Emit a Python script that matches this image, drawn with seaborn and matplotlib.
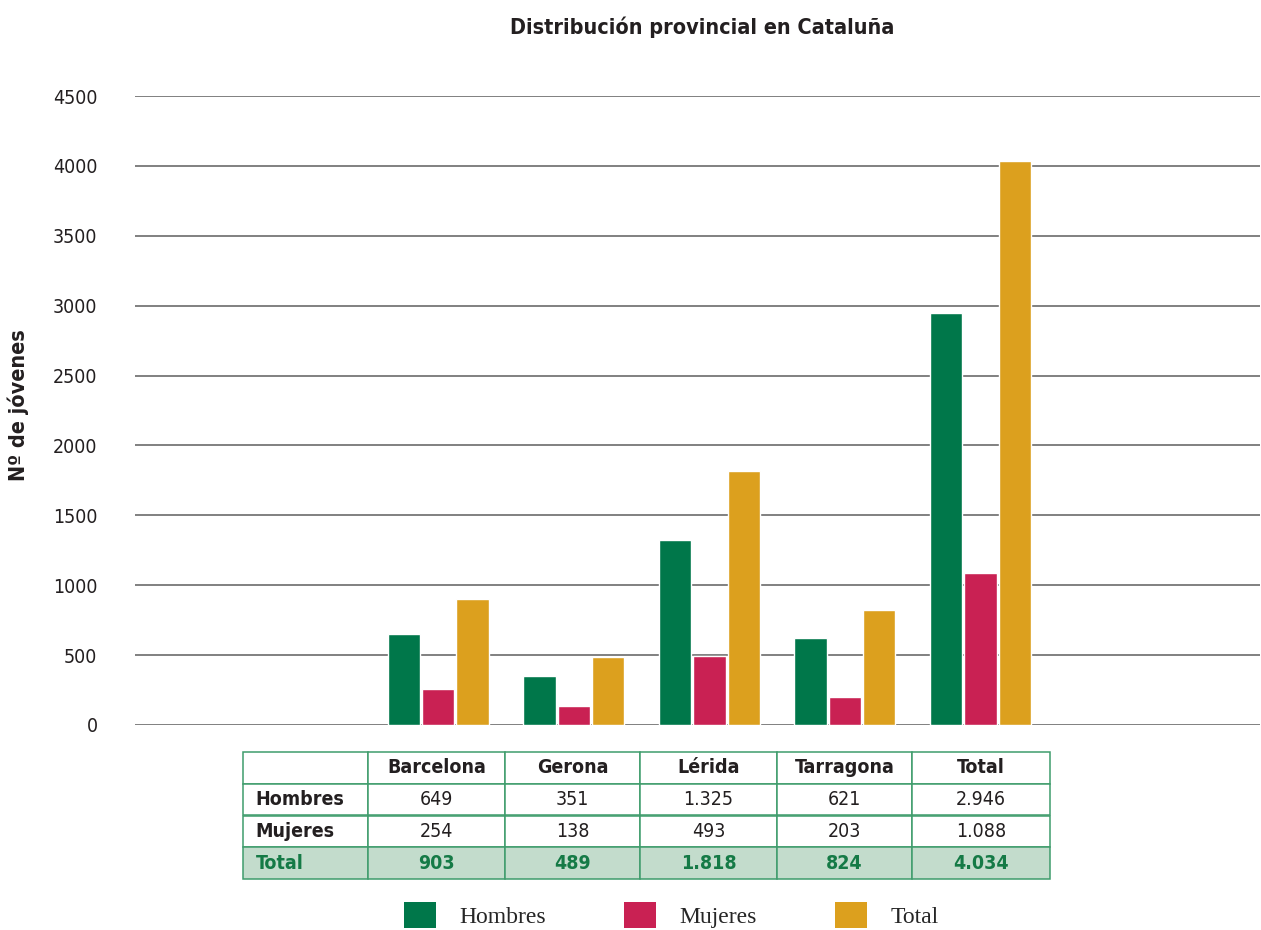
"""
Distribución provincial en Cataluña: barras agrupadas + tabla de datos debajo.
"""
import numpy as np
import pandas as pd
import matplotlib
matplotlib.use('Agg')
import matplotlib.pyplot as plt
from matplotlib.patches import Patch
import seaborn as sns

# ============== datos ==============
provincias = ['Barcelona', 'Gerona', 'Lérida', 'Tarragona', 'Total']
hombres = [649, 351, 1325, 621, 2946]
mujeres = [254, 138, 493, 203, 1088]
total = [903, 489, 1818, 824, 4034]
series = ['Hombres', 'Mujeres', 'Total']
y_ticks = [0, 500, 1000, 1500, 2000, 2500, 3000, 3500, 4000, 4500]

colors = {
    'Hombres': '#00774a',  # verde
    'Mujeres': '#c92153',  # carmín
    'Total':   '#dca01e',  # dorado
}
green_txt = '#157a46'
edge_green = '#3f9c6c'
total_bg = '#c3dccc'
dark = '#231f20'

sns.set_theme(style='white')
plt.rcParams['font.family'] = ['DejaVu Sans']
plt.rcParams['font.stretch'] = 'condensed'

df = pd.DataFrame({
    'provincia': provincias * 3,
    'serie': [s for s in series for _ in provincias],
    'valor': hombres + mujeres + total,
})

fig = plt.figure(figsize=(12.61, 9.30), dpi=100)
ax = fig.add_axes([135 / 1261, 1 - 725 / 930, 1125 / 1261, 629 / 930])

sns.barplot(data=df, x='provincia', y='valor', hue='serie', order=provincias,
            hue_order=series, palette=colors, width=0.76, gap=0.06,
            saturation=1, ax=ax, legend=False, zorder=3)

ax.set_xlim(-2.235, 6.06)
ax.set_ylim(0, 4500)
ax.set_yticks(y_ticks)
ax.set_yticklabels([str(v) for v in y_ticks], fontsize=14, color=dark)
ax.tick_params(axis='y', length=0, pad=27)
ax.set_xticks([])
ax.set_xlabel('')
ax.set_ylabel('')
for s in ax.spines.values():
    s.set_visible(False)
ax.yaxis.grid(True, color='#808080', linewidth=1.4)
ax.set_axisbelow(True)
ax.patch.set_alpha(0)

# ============== títulos ==============
fig.text(702 / 1261, 1 - 27 / 930, 'Distribución provincial en Cataluña',
         ha='center', va='center', fontsize=15.5, fontweight='bold', color=dark)
fig.text(18 / 1261, 1 - 405 / 930, 'Nº de jóvenes', rotation=90,
         ha='center', va='center', fontsize=15.5, fontweight='bold', color=dark)

# ============== tabla ==============
def fmt(v):
    return f'{v:,}'.replace(',', '.')

cell_text = [[''] + provincias,
             ['Hombres'] + [fmt(v) for v in hombres],
             ['Mujeres'] + [fmt(v) for v in mujeres],
             ['Total'] + [fmt(v) for v in total]]
col_w = np.array([125, 137, 135, 137, 135, 138], dtype=float)
col_w = col_w / col_w.sum()

tbl = ax.table(cellText=cell_text, colWidths=col_w, cellLoc='center',
               bbox=[(243 - 135) / 1125, (725 - 879) / 629,
                     (1050 - 243) / 1125, (879 - 752) / 629])
tbl.auto_set_font_size(False)
for (r, c), cell in tbl.get_celld().items():
    cell.set_edgecolor(edge_green)
    cell.set_linewidth(1.1)
    txt = cell.get_text()
    txt.set_fontsize(14)
    txt.set_color(dark)
    if c == 0:
        cell.set_text_props(ha='left')
        cell.PAD = 0.1
    if r == 0 or c == 0:
        txt.set_fontweight('bold')
    if r == 3:
        cell.set_facecolor(total_bg)
        txt.set_color(green_txt)
        txt.set_fontweight('bold')

# ============== leyenda ==============
handles = [Patch(facecolor=colors[s], edgecolor='none') for s in series]
fig.legend(handles, series, loc='upper left',
           bbox_to_anchor=(404 / 1261, 1 - 902 / 930), ncol=3, frameon=False,
           prop={'family': ['Liberation Serif', 'DejaVu Serif'], 'size': 17},
           handlelength=1.35, handleheight=1.3, handletextpad=1.0,
           columnspacing=3.3, borderaxespad=0, borderpad=0)

plt.savefig('out.png', dpi=100)
plt.close()
